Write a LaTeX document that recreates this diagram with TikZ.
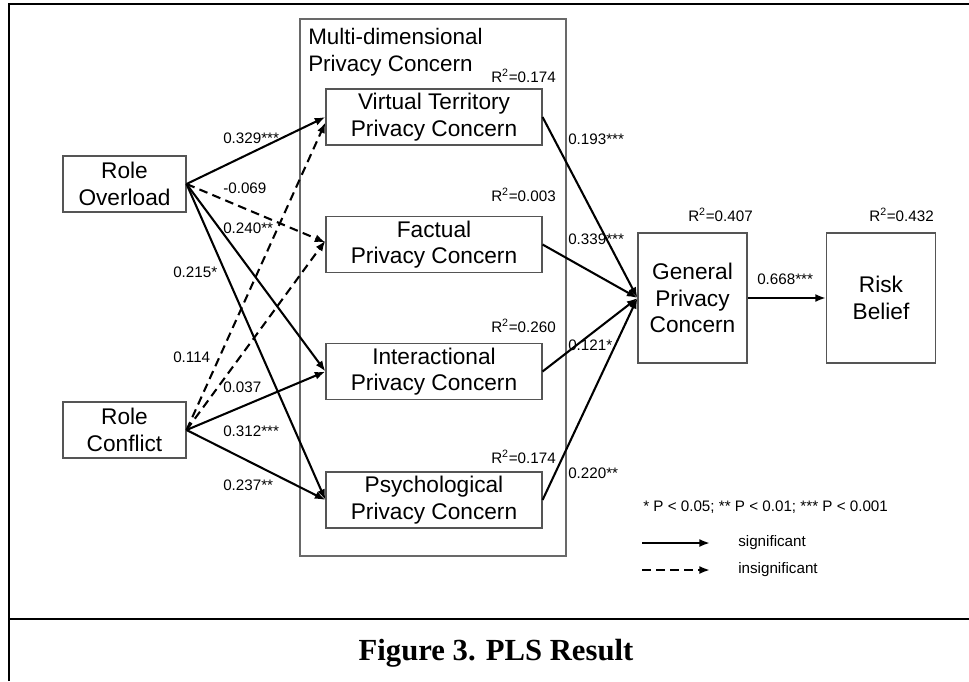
\documentclass[tikz,border=0pt]{standalone}
\usepackage{fontspec}
\usepackage{xcolor}
\usepackage{tikz}
\usetikzlibrary{arrows.meta,positioning,calc}
\newfontfamily\arialfont{Liberation Sans}
\newfontfamily\captionfont{Liberation Serif}
\newcommand{\Rsq}[1]{R\textsuperscript{2}=#1}
\definecolor{clrBox}{RGB}{85,85,85}
\definecolor{clrGrp}{RGB}{105,105,105}
\tikzset{
  latent/.style={rectangle,draw=clrBox,line width=0.8pt,align=center,
    font=\arialfont\fontsize{17}{20}\selectfont,inner sep=0pt},
  dimbox/.style={latent,minimum width=162pt,minimum height=42pt},
  rolebox/.style={latent,minimum width=92.25pt,minimum height=42pt},
  outbox/.style={latent,minimum width=81.75pt,minimum height=97.5pt},
  groupbox/.style={rectangle,draw=clrGrp,line width=0.8pt,
    minimum width=199.5pt,minimum height=402.75pt,inner sep=0pt},
  grouptitle/.style={font=\arialfont\fontsize{16.8}{20}\selectfont,
    align=left,inner sep=0pt},
  coef/.style={font=\arialfont\fontsize{11.4}{13}\selectfont,inner sep=0pt},
  rsq/.style={coef,anchor=east},
  arrow/.style={-{Latex[length=8pt,width=6pt]},line width=1.55pt},
  sig/.style={arrow},
  insig/.style={arrow,dash pattern=on 6.5pt off 4pt},
  frameline/.style={line width=2pt},
  figcaption/.style={font=\captionfont\bfseries\fontsize{23}{26}\selectfont,
    inner sep=0pt}
}

\begin{document}
\begin{tikzpicture}[x=0.75pt,y=-0.75pt]
  \useasboundingbox (0,0) rectangle (969,681);

  % page frame and caption
  \draw[frameline] (9,681) |- (969,4);
  \draw[frameline] (9,619) -- (969,619);
  \node[figcaption,anchor=base] (caption) at (496,660) {Figure 3. PLS Result};

  % multi-dimensional privacy concern
  \node[groupbox] (mdpc) at (433,287.5) {};
  \node[grouptitle,anchor=north west] (mdpctitle) at (308,28)
    {Multi-dimensional\\Privacy Concern};

  \node[dimbox] (vt)  at (434,117)   {Virtual Territory\\Privacy Concern};
  \node[dimbox] (fac) at (434,244.5) {Factual\\Privacy Concern};
  \node[dimbox] (int) at (434,371.5) {Interactional\\Privacy Concern};
  \node[dimbox] (psy) at (434,500)   {Psychological\\Privacy Concern};

  \node[rolebox] (ro) at (124.5,184) {Role\\Overload};
  \node[rolebox] (rc) at (124.5,430) {Role\\Conflict};

  \node[outbox] (gpc)  at (692.5,298) {General\\Privacy\\Concern};
  \node[outbox] (risk) at (881,298)   {Risk\\Belief};

  % R squared
  \node[rsq] (rsqvt)   at (556,76)  {\Rsq{0.174}};
  \node[rsq] (rsqfac)  at (556,195) {\Rsq{0.003}};
  \node[rsq] (rsqint)  at (556,326) {\Rsq{0.260}};
  \node[rsq] (rsqpsy)  at (556,457) {\Rsq{0.174}};
  \node[rsq] (rsqgpc)  at (753,215) {\Rsq{0.407}};
  \node[rsq] (rsqrisk) at (934,215) {\Rsq{0.432}};

  % paths
  \draw[sig]   (ro.east) -- (vt.west);
  \draw[insig] (ro.east) -- ([yshift=1.5pt]fac.west);
  \draw[sig]   (ro.east) -- (int.west);
  \draw[sig]   (ro.east) -- (psy.west);
  \draw[insig] (rc.east) -- ([yshift=-4pt]vt.west);
  \draw[insig] (rc.east) -- ([yshift=3pt]fac.west);
  \draw[sig]   (rc.east) -- (int.west);
  \draw[sig]   (rc.east) -- (psy.west);

  \draw[sig] (vt.east)  -- (gpc.west);
  \draw[sig] (fac.east) -- (gpc.west);
  \draw[sig] (int.east) -- (gpc.west);
  \draw[sig] (psy.east) -- (gpc.west);
  \draw[sig] (gpc.east) -- (risk.west);

  \node[coef,anchor=west] (c1)  at (223,138) {0.329***};
  \node[coef,anchor=west] (c2)  at (223,188) {-0.069};
  \node[coef,anchor=west] (c3)  at (223,228) {0.240**};
  \node[coef,anchor=west] (c4)  at (173,272) {0.215*};
  \node[coef,anchor=west] (c5)  at (173,357) {0.114};
  \node[coef,anchor=west] (c6)  at (223,387) {0.037};
  \node[coef,anchor=west] (c7)  at (223,431) {0.312***};
  \node[coef,anchor=west] (c8)  at (223,485) {0.237**};
  \node[coef,anchor=west] (c9)  at (568,139) {0.193***};
  \node[coef,anchor=west] (c10) at (568,239) {0.339***};
  \node[coef,anchor=west] (c11) at (568,345) {0.121*};
  \node[coef,anchor=west] (c12) at (568,473) {0.220**};
  \node[coef,anchor=west] (c13) at (757,279) {0.668***};

  % legend
  \node[coef,anchor=west] (pvals) at (643,507)
    {* P < 0.05; ** P < 0.01; *** P < 0.001};
  \coordinate (sigA) at (642,543);
  \coordinate (sigB) at (710,543);
  \coordinate (insA) at (642,570);
  \coordinate (insB) at (710,570);
  \draw[sig]   (sigA) -- (sigB);
  \draw[insig] (insA) -- (insB);
  \node[coef,anchor=west] (sigtext) at (738,543) {significant};
  \node[coef,anchor=west] (instext) at (738,570) {insignificant};
\end{tikzpicture}
\end{document}
